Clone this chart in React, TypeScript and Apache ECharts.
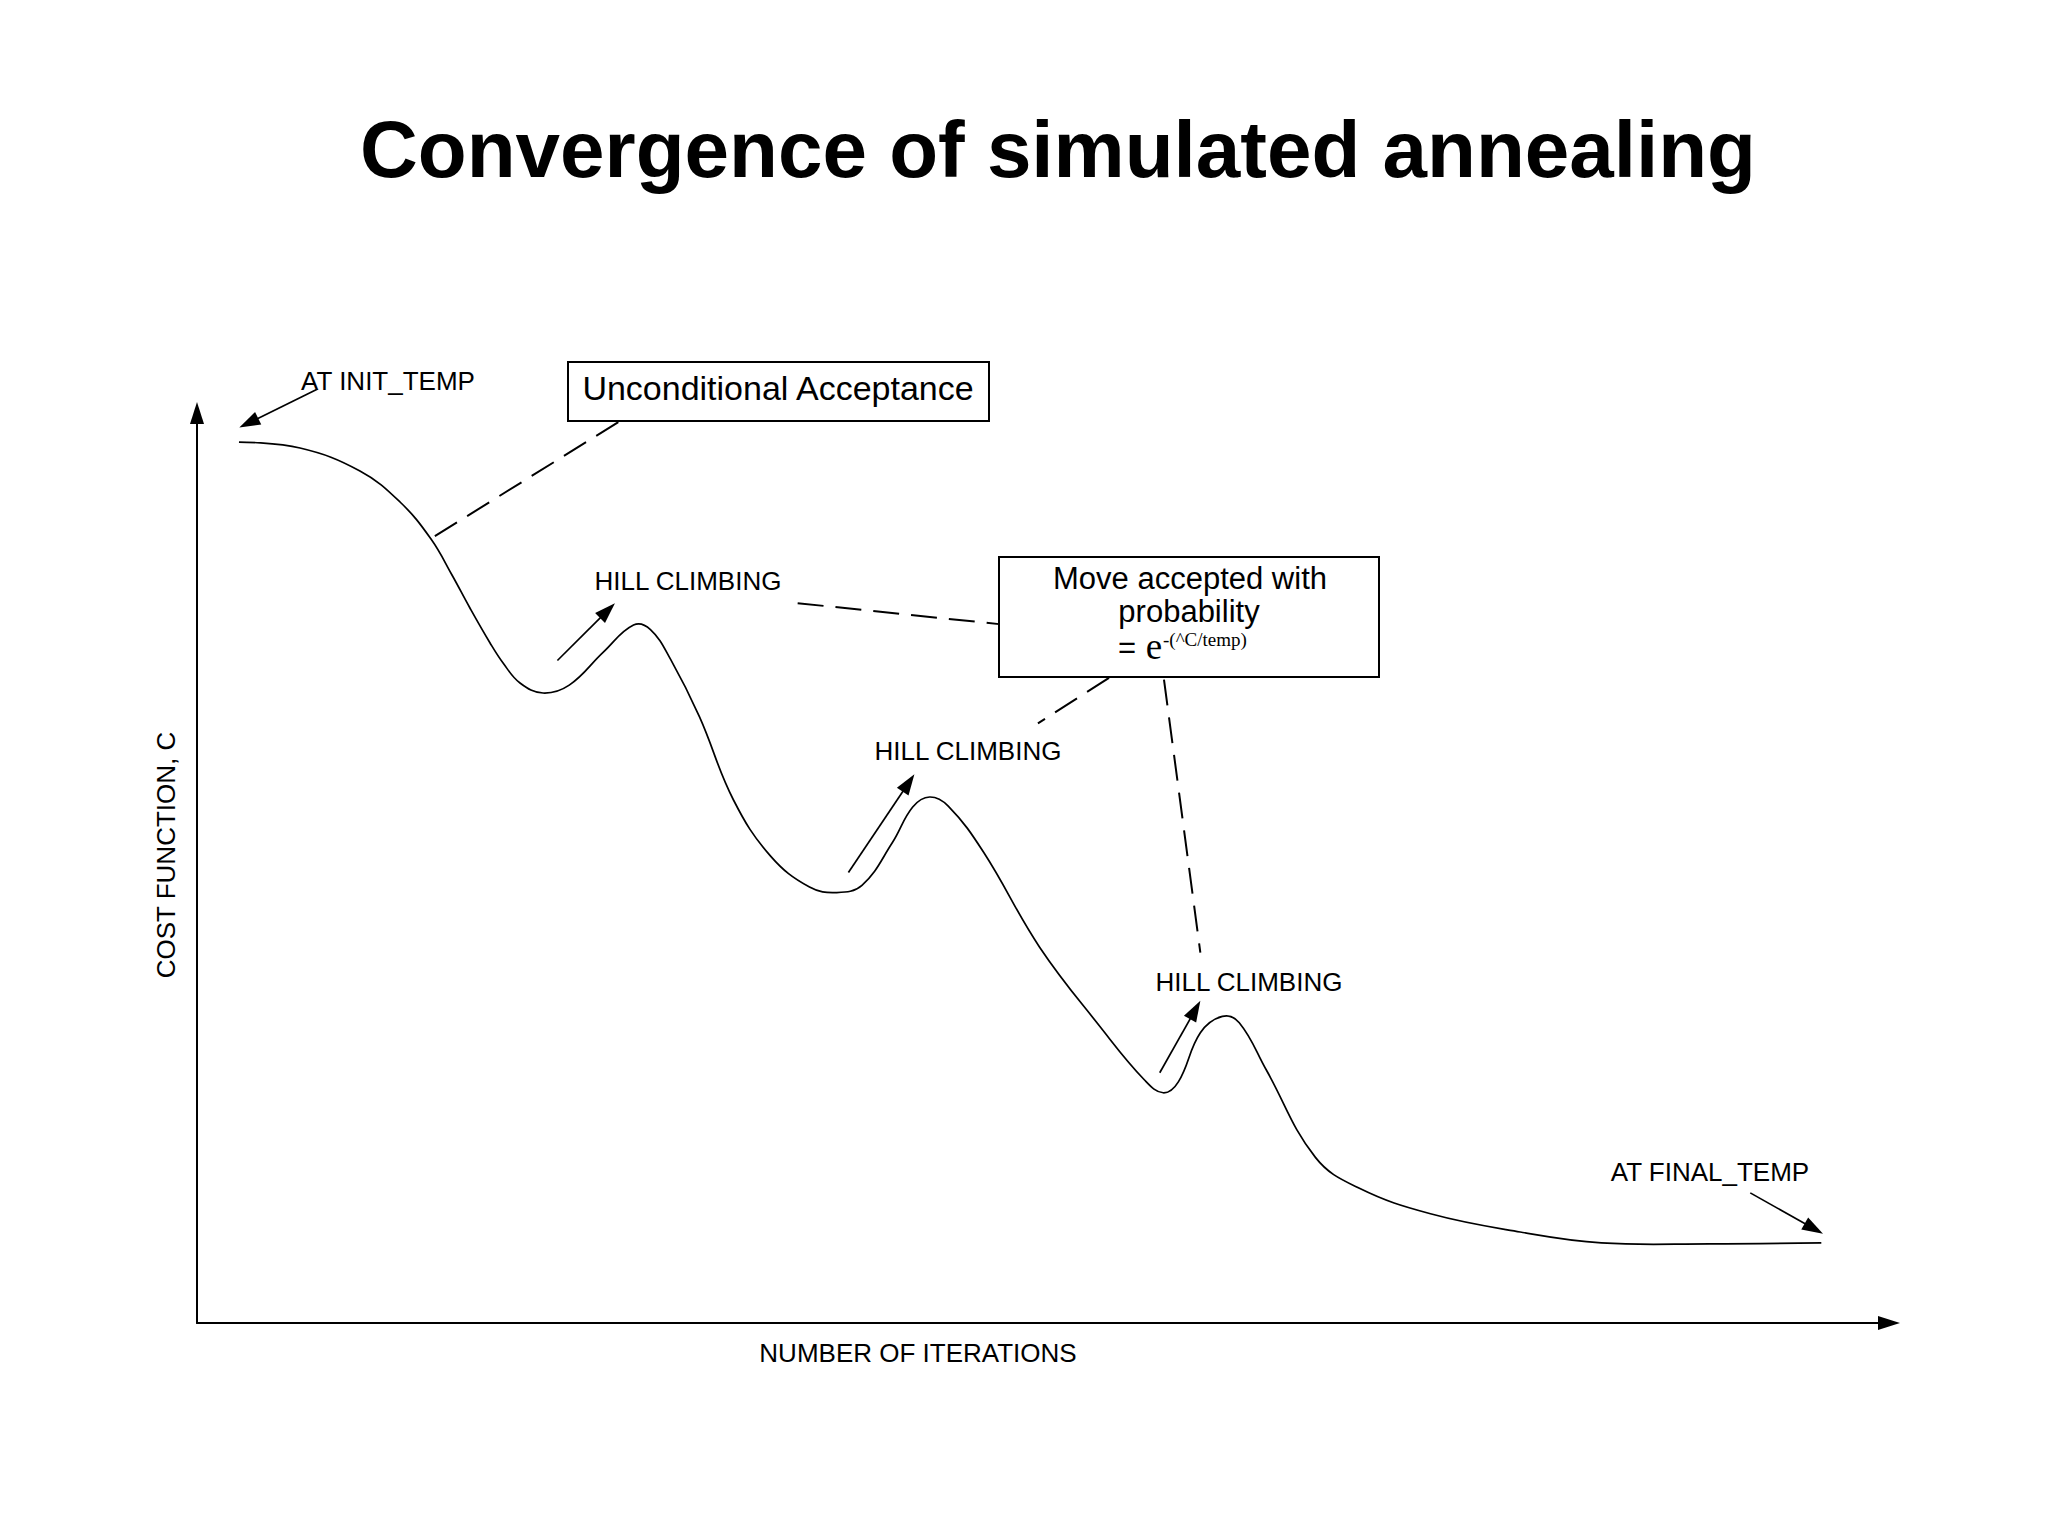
import React, { useEffect, useRef } from "react";
import * as echarts from "echarts";

// ---- Data ----
// x: number of iterations (0..100 scale), y: cost function C (0..100 scale)
const iterations = [
  2.48, 6.09, 9.63, 12.0, 13.83, 15.07, 16.13, 17.32, 18.09, 19.09, 20.45, 22.0,
  24.0, 25.8, 26.8, 28.0, 29.7, 31.7, 33.9, 36.2, 37.8, 39.3, 41.1, 42.3, 43.3,
  44.4, 46.5, 49.8, 53.4, 56.0, 57.1, 58.0, 59.3, 60.6, 61.6, 63.2, 66.1, 68.7,
  72.9, 78.2, 83.0, 89.4, 96.0,
];
const cost = [
  96.81, 96.15, 93.63, 90.22, 86.15, 82.2, 78.57, 74.73, 72.53, 70.33, 69.23,
  70.1, 73.7, 76.7, 76.2, 72.9, 66.6, 57.5, 51.3, 47.9, 47.3, 48.1, 52.8, 56.7,
  57.8, 56.8, 51.7, 41.3, 32.5, 26.7, 25.3, 26.5, 31.9, 33.7, 33.0, 27.8, 18.2,
  14.8, 12.0, 10.0, 8.8, 8.7, 8.8,
];

// Annotation arrows (from x, from y, to x, to y) in data units
const arrowSegments = [
  [7.1, 102.6, 2.5, 98.4], // AT INIT_TEMP
  [21.3, 72.8, 24.7, 79.1], // HILL CLIMBING 1
  [38.5, 49.5, 42.4, 60.3], // HILL CLIMBING 2
  [56.9, 27.5, 59.3, 35.4], // HILL CLIMBING 3
  [91.8, 14.3, 96.1, 9.8], // AT FINAL_TEMP
];
// Dashed leader lines (from x, from y, to x, to y) in data units
const dashedSegments = [
  [24.9, 99.0, 14.0, 86.4],
  [35.5, 79.1, 47.4, 76.8],
  [53.9, 70.9, 49.7, 65.9],
  [57.15, 70.7, 59.3, 40.7],
];

const titleText = "Convergence of simulated annealing";
const xAxisTitle = "NUMBER OF ITERATIONS";
const yAxisTitle = "COST FUNCTION, C";
const hillLabel = "HILL CLIMBING";
const initLabel = "AT INIT_TEMP";
const finalLabel = "AT FINAL_TEMP";
const boxOneText = "Unconditional Acceptance";
const boxTwoLines = ["Move accepted with", "probability"];
const formulaEq = "=";
const formulaBase = "e";
const formulaExp = "-(^C/temp)";

const FONT = '"Liberation Sans", Arial, Helvetica, sans-serif';
const SERIF = '"Liberation Serif", "Times New Roman", Times, serif';

function txt(
  text: string,
  x: number,
  y: number,
  size: number,
  opts: { rotation?: number; family?: string; weight?: string; align?: string } = {}
) {
  const align = opts.align || "center";
  return {
    type: "text",
    x,
    y,
    rotation: opts.rotation || 0,
    silent: true,
    z: 10,
    style: {
      text,
      x: 0,
      y: 0,
      fill: "#000",
      fontSize: size,
      fontFamily: opts.family || FONT,
      fontWeight: opts.weight || "normal",
      textAlign: align,
      align,
      textVerticalAlign: "middle",
      verticalAlign: "middle",
    },
  };
}

function segmentRenderer(kind: "arrow" | "dash") {
  return (params: any, api: any) => {
    const a = api.coord([api.value(0), api.value(1)]);
    const b = api.coord([api.value(2), api.value(3)]);
    if (kind === "dash") {
      return {
        type: "line",
        shape: { x1: a[0], y1: a[1], x2: b[0], y2: b[1] },
        style: { stroke: "#000", lineWidth: 2, lineDash: [26, 12], fill: null },
      };
    }
    const dx = b[0] - a[0];
    const dy = b[1] - a[1];
    const len = Math.hypot(dx, dy) || 1;
    const ux = dx / len;
    const uy = dy / len;
    const L = 21;
    const W = 7;
    const bx = b[0] - ux * L;
    const by = b[1] - uy * L;
    return {
      type: "group",
      children: [
        {
          type: "line",
          shape: { x1: a[0], y1: a[1], x2: bx + ux * 2, y2: by + uy * 2 },
          style: { stroke: "#000", lineWidth: 1.7, fill: null },
        },
        {
          type: "polygon",
          shape: {
            points: [
              [b[0], b[1]],
              [bx - uy * W, by + ux * W],
              [bx + uy * W, by - ux * W],
            ],
          },
          style: { fill: "#000", stroke: "none" },
        },
      ],
    };
  };
}

// Smooth cost curve: one spline through all data points, placed by the axes
function curveRenderer(params: any, api: any) {
  if (params.dataIndex !== 0) return null;
  const pts = iterations.map((x, i) => api.coord([x, cost[i]]));
  return {
    type: "polyline",
    shape: { points: pts, smooth: 0.4 },
    style: { stroke: "#000", lineWidth: 1.7, fill: null },
  };
}

export default function App() {
  const ref = useRef<HTMLDivElement>(null);

  useEffect(() => {
    if (!ref.current) return;
    const chart = echarts.init(ref.current, null, { renderer: "svg" });

    const axisCommon = {
      type: "value",
      min: 0,
      max: 100,
      axisLine: {
        show: true,
        onZero: false,
        symbol: ["none", "triangle"],
        symbolSize: [14, 22],
        lineStyle: { color: "#000", width: 2 },
      },
      axisTick: { show: false },
      axisLabel: { show: false },
      splitLine: { show: false },
    };

    const option: any = {
      animation: false,
      backgroundColor: "#fff",
      grid: { left: 197, top: 413, width: 1692, height: 910, containLabel: false },
      xAxis: { ...axisCommon },
      yAxis: { ...axisCommon },
      series: [
        {
          type: "custom",
          name: "Cost",
          coordinateSystem: "cartesian2d",
          data: iterations.map((x, i) => [x, cost[i]]),
          encode: { x: 0, y: 1 },
          renderItem: curveRenderer,
          clip: false,
          silent: true,
          z: 3,
        },
        {
          type: "custom",
          name: "arrows",
          coordinateSystem: "cartesian2d",
          data: arrowSegments,
          encode: { x: [0, 2], y: [1, 3] },
          renderItem: segmentRenderer("arrow"),
          clip: false,
          silent: true,
          z: 4,
        },
        {
          type: "custom",
          name: "leaders",
          coordinateSystem: "cartesian2d",
          data: dashedSegments,
          encode: { x: [0, 2], y: [1, 3] },
          renderItem: segmentRenderer("dash"),
          clip: false,
          silent: true,
          z: 4,
        },
      ],
      graphic: [
        txt(titleText, 1058, 149, 80, { weight: "bold" }),
        {
          type: "rect",
          silent: true,
          z: 5,
          shape: { x: 568, y: 362, width: 421, height: 59 },
          style: { fill: "#fff", stroke: "#000", lineWidth: 2 },
        },
        {
          type: "rect",
          silent: true,
          z: 5,
          shape: { x: 999, y: 557, width: 380, height: 120 },
          style: { fill: "#fff", stroke: "#000", lineWidth: 2 },
        },
        txt(boxOneText, 778, 388, 34),
        txt(boxTwoLines[0], 1190, 578, 31),
        txt(boxTwoLines[1], 1189, 611, 31),
        txt(formulaEq, 1127, 647, 31),
        txt(formulaBase, 1154, 646, 37, { family: SERIF }),
        txt(formulaExp, 1163, 639, 19, { family: SERIF, align: "left" }),
        txt(initLabel, 388, 381, 26),
        txt(hillLabel, 688, 581, 26),
        txt(hillLabel, 968, 751, 26),
        txt(hillLabel, 1249, 982, 26),
        txt(finalLabel, 1710, 1172, 26),
        txt(xAxisTitle, 918, 1353, 26),
        txt(yAxisTitle, 166, 855, 26, { rotation: Math.PI / 2 }),
      ],
    };

    chart.setOption(option);
    return () => {
      chart.dispose();
    };
  }, []);

  return (
    <div
      ref={ref}
      style={{
        position: "absolute",
        left: 0,
        top: 0,
        width: 2048,
        height: 1536,
        background: "#fff",
      }}
    />
  );
}
